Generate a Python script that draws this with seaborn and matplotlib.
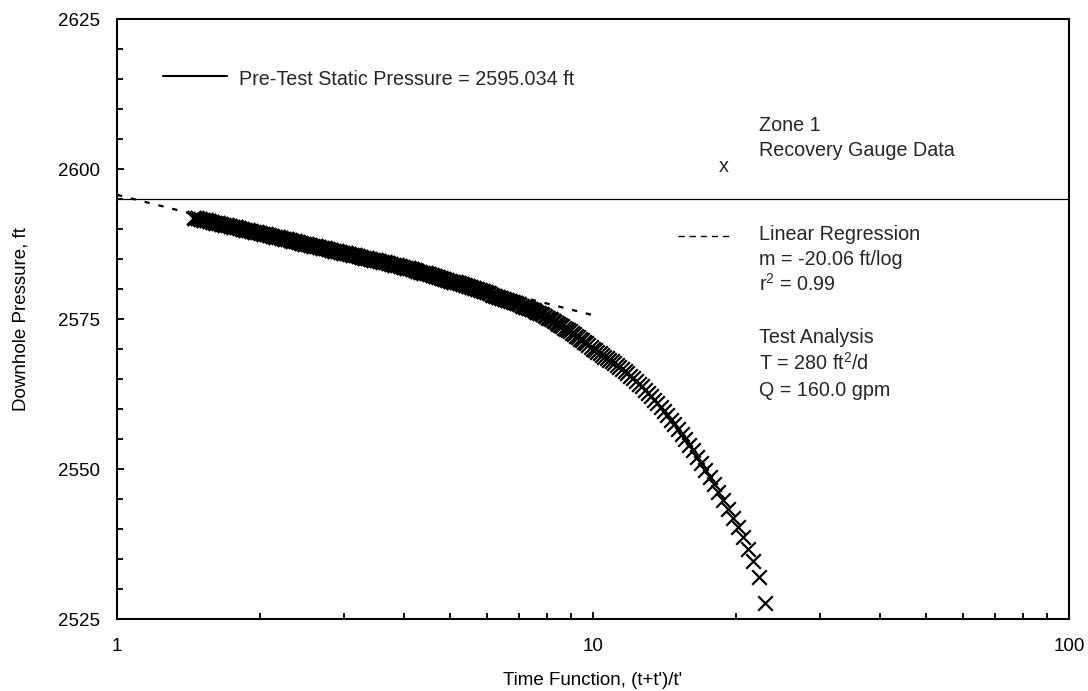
import matplotlib
matplotlib.use("Agg")
import matplotlib.pyplot as plt
import pandas as pd
import seaborn as sns
from matplotlib.ticker import MultipleLocator, LogLocator, NullFormatter
from matplotlib.lines import Line2D

# ---------------- data ----------------
# Recovery gauge data, late recovery (dense part of the curve)
tf_dense = [1.454, 1.475, 1.496, 1.518, 1.540, 1.562, 1.585, 1.608, 1.631, 1.655,
            1.679, 1.703, 1.728, 1.753, 1.778, 1.804, 1.830, 1.857, 1.884, 1.911,
            1.939, 1.967, 1.995, 2.024, 2.054, 2.083, 2.113, 2.144, 2.175, 2.207,
            2.239, 2.271, 2.304, 2.337, 2.371, 2.406, 2.441, 2.476, 2.512, 2.548,
            2.585, 2.623, 2.661, 2.699, 2.738, 2.778, 2.818, 2.859, 2.901, 2.943,
            2.985, 3.029, 3.073, 3.117, 3.162, 3.208, 3.255, 3.302, 3.350, 3.398,
            3.447, 3.497, 3.548, 3.600, 3.652, 3.705, 3.758, 3.813, 3.868, 3.924,
            3.981, 4.039, 4.097, 4.157, 4.217, 4.278, 4.340, 4.403, 4.467, 4.532,
            4.597, 4.664, 4.732, 4.800, 4.870, 4.940, 5.012, 5.085, 5.158, 5.233,
            5.309, 5.386, 5.464, 5.543, 5.623, 5.705, 5.788, 5.872, 5.957, 6.043,
            6.131, 6.219, 6.310, 6.401, 6.494, 6.588, 6.683, 6.780, 6.879, 6.978,
            7.079, 7.182, 7.286, 7.392, 7.499, 7.608, 7.718, 7.830, 7.943, 8.058,
            8.175, 8.294, 8.414]
p_dense = [2591.89, 2591.77, 2591.66, 2591.54, 2591.42, 2591.31, 2591.19, 2591.07, 2590.96, 2590.84,
           2590.72, 2590.61, 2590.49, 2590.37, 2590.26, 2590.14, 2590.02, 2589.91, 2589.79, 2589.67,
           2589.56, 2589.44, 2589.32, 2589.21, 2589.09, 2588.97, 2588.86, 2588.74, 2588.62, 2588.51,
           2588.39, 2588.27, 2588.16, 2588.04, 2587.93, 2587.81, 2587.69, 2587.58, 2587.46, 2587.34,
           2587.23, 2587.11, 2586.99, 2586.88, 2586.76, 2586.64, 2586.53, 2586.41, 2586.29, 2586.18,
           2586.06, 2585.94, 2585.83, 2585.71, 2585.60, 2585.48, 2585.36, 2585.25, 2585.13, 2585.01,
           2584.90, 2584.78, 2584.66, 2584.54, 2584.43, 2584.31, 2584.18, 2584.06, 2583.93, 2583.81,
           2583.68, 2583.55, 2583.42, 2583.28, 2583.15, 2583.01, 2582.87, 2582.73, 2582.59, 2582.45,
           2582.31, 2582.16, 2582.01, 2581.86, 2581.71, 2581.56, 2581.41, 2581.25, 2581.09, 2580.93,
           2580.77, 2580.61, 2580.45, 2580.28, 2580.12, 2579.95, 2579.78, 2579.61, 2579.43, 2579.26,
           2579.08, 2578.90, 2578.72, 2578.54, 2578.36, 2578.18, 2577.99, 2577.80, 2577.61, 2577.42,
           2577.23, 2577.04, 2576.84, 2576.64, 2576.45, 2576.25, 2576.04, 2575.84, 2575.54, 2575.23,
           2574.92, 2574.61, 2574.30]

# Recovery gauge data, early recovery (individual markers)
tf_tail = [8.460, 8.535, 8.612, 8.691, 8.771, 8.853, 8.936, 9.022, 9.109, 9.198,
           9.289, 9.382, 9.477, 9.575, 9.674, 9.776, 9.881, 9.988, 10.098, 10.210,
           10.325, 10.443, 10.564, 10.688, 10.816, 10.947, 11.081, 11.219, 11.361, 11.507,
           11.657, 11.812, 11.971, 12.134, 12.303, 12.477, 12.656, 12.841, 13.032, 13.230,
           13.433, 13.644, 13.862, 14.088, 14.321, 14.564, 14.815, 15.075, 15.346, 15.627,
           15.920, 16.224, 16.542, 16.872, 17.217, 17.578, 17.955, 18.349, 18.762, 19.195,
           19.650, 20.128, 20.632, 21.162, 21.722, 22.314, 22.941]
p_tail = [2574.17, 2573.99, 2573.79, 2573.58, 2573.36, 2573.15, 2572.92, 2572.69, 2572.45, 2572.20,
          2571.95, 2571.69, 2571.44, 2571.19, 2570.92, 2570.65, 2570.37, 2570.08, 2569.83, 2569.58,
          2569.32, 2569.04, 2568.75, 2568.47, 2568.20, 2567.93, 2567.65, 2567.35, 2567.04, 2566.69,
          2566.33, 2565.96, 2565.55, 2565.14, 2564.71, 2564.25, 2563.76, 2563.24, 2562.72, 2562.16,
          2561.57, 2560.95, 2560.31, 2559.64, 2558.93, 2558.19, 2557.44, 2556.64, 2555.81, 2554.96,
          2554.05, 2553.09, 2552.07, 2551.00, 2549.88, 2548.70, 2547.46, 2546.16, 2544.80, 2543.38,
          2541.89, 2540.32, 2538.61, 2536.74, 2534.62, 2532.00, 2527.70]

# Linear regression line (end points) and static pressure
reg_tf = [1.0, 10.0]
reg_p = [2595.70, 2575.64]
static_pressure = 2595.034

# Axis ticks
y_ticks = [2525, 2550, 2575, 2600, 2625]
x_ticks = [1, 10, 100]
x_tick_labels = ["1", "10", "100"]

# Annotation text
txt_static = "Pre-Test Static Pressure = 2595.034 ft"
txt_zone = ["Zone 1", "Recovery Gauge Data"]
txt_reg = ["Linear Regression", "m = -20.06 ft/log", "r$^2$ = 0.99"]
txt_test = ["Test Analysis", "T = 280 ft$^2$/d", "Q = 160.0 gpm"]

# ---------------- styling ----------------
sns.set_theme(style="ticks")
plt.rcParams["font.family"] = ["Liberation Sans", "DejaVu Sans"]
plt.rcParams["mathtext.fontset"] = "custom"
plt.rcParams["mathtext.rm"] = "Liberation Sans"
plt.rcParams["mathtext.it"] = "Liberation Sans:italic"
plt.rcParams["mathtext.bf"] = "Liberation Sans:bold"

dense_df = pd.DataFrame({"tf": tf_dense, "p": p_dense})
tail_df = pd.DataFrame({"tf": tf_tail, "p": p_tail})
reg_df = pd.DataFrame({"tf": reg_tf, "p": reg_p})

fig = plt.figure(figsize=(10.88, 6.91), dpi=100)
fig.patch.set_facecolor("white")
ax = fig.add_axes([117 / 1088, 1 - 619 / 691, 952 / 1088, 600 / 691])
ax.set_facecolor("white")

ax.axhline(static_pressure, color="black", lw=0.9, zorder=1)
sns.lineplot(data=reg_df, x="tf", y="p", ax=ax, color="black", lw=1.6,
             linestyle=(0, (2.4, 4.0)), estimator=None, sort=False, zorder=2)
sns.scatterplot(data=dense_df, x="tf", y="p", ax=ax, marker="x", s=105, color="black",
                linewidth=2.4, legend=False, zorder=3)
sns.scatterplot(data=tail_df, x="tf", y="p", ax=ax, marker="x", s=110, color="black",
                linewidth=1.6, legend=False, zorder=3)

ax.set_xscale("log")
ax.set_xlim(1, 100)
ax.set_ylim(2525, 2625)
ax.set_yticks(y_ticks)
ax.yaxis.set_minor_locator(MultipleLocator(5))
ax.set_xticks(x_ticks)
ax.set_xticklabels(x_tick_labels)
ax.xaxis.set_minor_locator(LogLocator(base=10, subs=[2, 3, 4, 5, 6, 7, 8, 9]))
ax.xaxis.set_minor_formatter(NullFormatter())

for s in ax.spines.values():
    s.set_visible(True)
    s.set_linewidth(1.5)
    s.set_color("black")

ax.tick_params(axis="both", which="both", direction="in", color="black", width=1.3,
               top=False, right=False, labelcolor="black")
ax.tick_params(axis="both", which="major", length=5, labelsize=13.5)
ax.tick_params(axis="both", which="minor", length=4)
ax.tick_params(axis="y", which="major", pad=12)
ax.tick_params(axis="x", which="major", pad=14)

ax.set_xlabel("Time Function, (t+t')/t'", fontsize=13.5, color="black")
ax.set_ylabel("Downhole Pressure, ft", fontsize=13.5, color="black")
ax.xaxis.set_label_coords(0.5, -0.088)
ax.yaxis.set_label_coords(-0.092, 0.5)

# ---------------- legend-like annotation ----------------
tr = ax.transAxes
fs = 14.2
ax.add_line(Line2D([0.048, 0.116], [0.9045, 0.9045], transform=tr, color="black", lw=1.5))
ax.text(0.1285, 0.89, txt_static, transform=tr, fontsize=fs, va="baseline", ha="left")

tx = 0.6747
ax.text(tx, 0.8133, txt_zone[0], transform=tr, fontsize=fs, va="baseline")
ax.text(tx, 0.7717, txt_zone[1], transform=tr, fontsize=fs, va="baseline")
ax.text(0.6376, 0.7450, "x", transform=tr, fontsize=fs, va="baseline", ha="center")

ax.add_line(Line2D([0.5893, 0.6439], [0.6383, 0.6383], transform=tr, color="black",
                   lw=1.0, linestyle=(0, (4.5, 3.5))))
for txt, y in zip(txt_reg, [0.6317, 0.5908, 0.5467]):
    ax.text(tx, y, txt, transform=tr, fontsize=fs, va="baseline")
for txt, y in zip(txt_test, [0.4600, 0.4150, 0.3717]):
    ax.text(tx, y, txt, transform=tr, fontsize=fs, va="baseline")

fig.savefig("out.png", dpi=100, facecolor="white")
